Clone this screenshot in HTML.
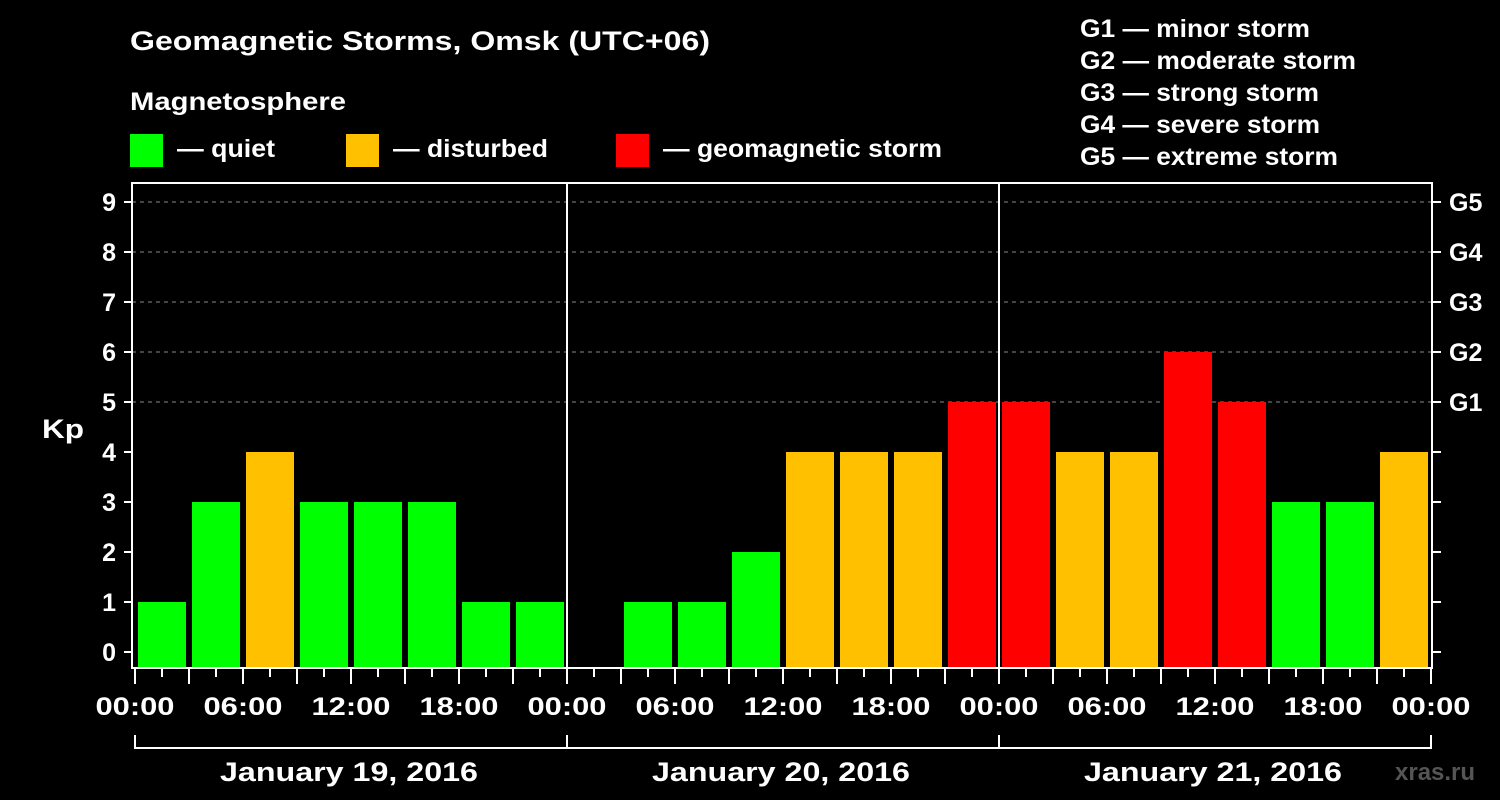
<!DOCTYPE html>
<html><head><meta charset="utf-8"><style>
html,body{margin:0;padding:0;background:#000;overflow:hidden;width:1500px;height:800px;}
svg{display:block;}
svg text{font-family:"Liberation Sans",Arial,sans-serif;font-weight:bold;fill:#fff;}
</style></head><body>
<svg id="c" width="1500" height="800" xmlns="http://www.w3.org/2000/svg">
<rect width="1500" height="800" fill="#000"/>
<text x="130" y="50" font-size="27" textLength="580" lengthAdjust="spacingAndGlyphs">Geomagnetic Storms, Omsk (UTC+06)</text>
<text x="130" y="110" font-size="25" textLength="216" lengthAdjust="spacingAndGlyphs">Magnetosphere</text>
<g>
<rect x="130" y="134" width="33" height="33" fill="#00ff00"/>
<text x="177" y="157" font-size="25" textLength="98" lengthAdjust="spacingAndGlyphs">— quiet</text>
<rect x="346" y="134" width="33" height="33" fill="#ffc000"/>
<text x="393" y="157" font-size="25" textLength="155" lengthAdjust="spacingAndGlyphs">— disturbed</text>
<rect x="616" y="134" width="33" height="33" fill="#ff0000"/>
<text x="663" y="157" font-size="25" textLength="279" lengthAdjust="spacingAndGlyphs">— geomagnetic storm</text>
</g>
<g font-size="25">
<text x="1080" y="37" textLength="230" lengthAdjust="spacingAndGlyphs">G1 — minor storm</text>
<text x="1080" y="69" textLength="276" lengthAdjust="spacingAndGlyphs">G2 — moderate storm</text>
<text x="1080" y="101" textLength="239" lengthAdjust="spacingAndGlyphs">G3 — strong storm</text>
<text x="1080" y="133" textLength="240" lengthAdjust="spacingAndGlyphs">G4 — severe storm</text>
<text x="1080" y="165" textLength="258" lengthAdjust="spacingAndGlyphs">G5 — extreme storm</text>
</g>
<text x="42" y="438" font-size="27" textLength="42" lengthAdjust="spacingAndGlyphs">Kp</text>
<text x="1395" y="780" font-size="24" style="fill:#555">xras.ru</text>
<g id="plot"></g>
</svg>
<script>
const kpValues = [1,3,4,3,3,3,1,1, 0,1,1,2,4,4,4,5, 5,4,4,6,5,3,3,4];
const dayLabels = ["January 19, 2016","January 20, 2016","January 21, 2016"];
const hourLabels = ["00:00","06:00","12:00","18:00"];
const yTicks = [0,1,2,3,4,5,6,7,8,9];
const gLabels = ["G1","G2","G3","G4","G5"];

const NS="http://www.w3.org/2000/svg";
const plot=document.getElementById('plot');
const x0=135, slot=54, frameL=132, frameR=1432, plotTop=183, plotBottom=668;
const xOf=i=>x0+i*slot;
const yOf=v=>652-v*50;
function mk(tag,attrs){const e=document.createElementNS(NS,tag);for(const k in attrs)e.setAttribute(k,attrs[k]);plot.appendChild(e);return e;}

yTicks.filter(v=>v>=5).forEach(v=>{
  const l=mk('line',{x1:frameL,x2:frameR,y1:yOf(v),y2:yOf(v),stroke:'#888','stroke-width':1,'stroke-dasharray':'4,4'});
  
  
});
kpValues.forEach((v,i)=>{
  if(v<=0)return;
  const col=v>=5?'#ff0000':(v>=4?'#ffc000':'#00ff00');
  const r=mk('rect',{x:xOf(i)+3,y:yOf(v),width:48,height:plotBottom-yOf(v),fill:col});
  
  
});
const fr=mk('rect',{x:frameL,y:plotTop,width:frameR-frameL,height:plotBottom-plotTop,fill:'none',stroke:'#fff','stroke-width':2});


for(let d=1;d<dayLabels.length;d++){
  const l=mk('line',{x1:xOf(d*8),x2:xOf(d*8),y1:plotTop,y2:plotBottom,stroke:'#fff','stroke-width':2});
  
  
}
yTicks.forEach(v=>{
  const y=yOf(v);
  const a=mk('line',{x1:124,x2:frameL,y1:y,y2:y,stroke:'#fff','stroke-width':2});
  
  
  const b=mk('line',{x1:frameR,x2:1441,y1:y,y2:y,stroke:'#fff','stroke-width':2});
  
  
  const t=mk('text',{x:116,y:y+9,'font-size':25,'text-anchor':'end'});
  t.textContent=v;
  
  
});
gLabels.forEach((g,i)=>{
  const t=mk('text',{x:1449,y:yOf(5+i)+9,'font-size':25});
  t.textContent=g;
  
  
});
for(let i=0;i<=kpValues.length*2;i++){
  const x=x0+i*slot/2;
  const long=i%2===0;
  const l=mk('line',{x1:x,x2:x,y1:plotBottom,y2:long?684:677,stroke:'#fff','stroke-width':2});
  
  
}
for(let i=0;i<=kpValues.length/2;i++){
  const t=mk('text',{x:x0+i*slot*2,y:715,'font-size':25,'text-anchor':'middle',textLength:79,lengthAdjust:'spacingAndGlyphs'});
  t.textContent=hourLabels[i%4];
  
  
}
const bl=mk('line',{x1:x0,x2:xOf(kpValues.length),y1:748,y2:748,stroke:'#fff','stroke-width':2});


dayLabels.forEach((d,i)=>{
  [xOf(i*8),xOf((i+1)*8)].forEach(x=>{
    const v=mk('line',{x1:x,x2:x,y1:735,y2:749,stroke:'#fff','stroke-width':2});
    
    
  });
  const t=mk('text',{x:xOf(i*8+4)-2,y:781,'font-size':27,'text-anchor':'middle',textLength:258,lengthAdjust:'spacingAndGlyphs'});
  t.textContent=d;
  
  
});
</script>
</body></html>
